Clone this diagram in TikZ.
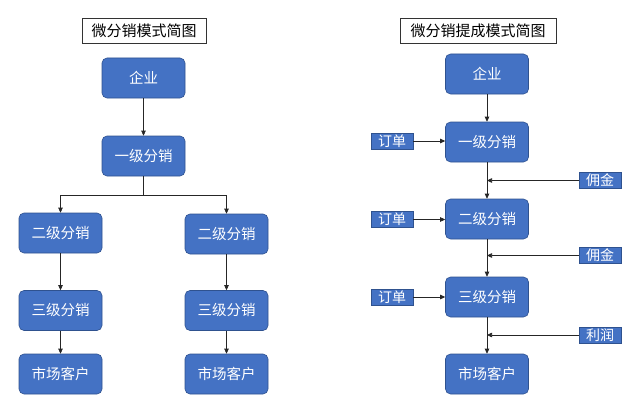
\documentclass[tikz,border=0pt]{standalone}
\usepackage{fontspec}
\setmainfont{Noto Sans CJK SC}
\usetikzlibrary{arrows.meta,positioning}
\definecolor{boxblue}{HTML}{4472C4}
\definecolor{boxedge}{HTML}{2F528F}
\tikzset{
  x=1pt,y=-1pt,
  rbox/.style={draw=boxedge,fill=boxblue,rounded corners=5pt,minimum width=83pt,minimum height=40pt,inner sep=0pt,text=white,font=\fontsize{14.5}{17}\selectfont,line width=0.6pt},
  tbox/.style={draw=black!80,fill=white,inner sep=0pt,minimum height=25pt,font=\fontsize{15}{18}\selectfont,line width=0.8pt},
  lbox/.style={draw=boxedge,fill=boxblue,inner sep=0pt,minimum width=42pt,minimum height=16pt,text=white,font=\fontsize{14}{16}\selectfont,line width=0.5pt},
  arr/.style={draw=black!85,line width=0.7pt,-{Triangle[length=5pt,width=4.5pt]}},
  ln/.style={draw=black!85,line width=0.7pt},
}
\begin{document}
\begin{tikzpicture}
\useasboundingbox (0,0) rectangle (640,420);
% left diagram
\node[tbox,minimum width=124pt] (t1) at (144,30.5) {微分销模式简图};
\node[rbox] (a1) at (143.5,78) {企业};
\node[rbox] (a2) at (143.5,156) {一级分销};
\node[rbox] (b1) at (60.5,233) {二级分销};
\node[rbox] (c1) at (226.5,234) {二级分销};
\node[rbox] (b2) at (60.5,310.5) {三级分销};
\node[rbox] (c2) at (226.5,310.5) {三级分销};
\node[rbox] (b3) at (60.5,374) {市场客户};
\node[rbox] (c3) at (226.5,374) {市场客户};
\coordinate (sp) at (143.5,195);
\coordinate (spl) at (60.5,195);
\coordinate (spr) at (226.5,195);
\draw[arr] (a1) -- (a2);
\draw[ln] (a2) -- (sp);
\draw[ln] (spl) -- (spr);
\draw[arr] (spl) -- (b1);
\draw[arr] (spr) -- (c1);
\draw[arr] (b1) -- (b2);
\draw[arr] (c1) -- (c2);
\draw[arr] (b2) -- (b3);
\draw[arr] (c2) -- (c3);
% right diagram
\node[tbox,minimum width=156pt] (t2) at (478,30.5) {微分销提成模式简图};
\node[rbox] (r1) at (487,74) {企业};
\node[rbox] (r2) at (487,142) {一级分销};
\node[rbox] (r3) at (487,219) {二级分销};
\node[rbox] (r4) at (487,297) {三级分销};
\node[rbox] (r5) at (487,374) {市场客户};
\draw[arr] (r1) -- (r2);
\draw[arr] (r2) -- (r3);
\draw[arr] (r3) -- (r4);
\draw[arr] (r4) -- (r5);
\node[lbox] (o1) at (392,141) {订单};
\node[lbox] (o2) at (392,219.5) {订单};
\node[lbox] (o3) at (392,297) {订单};
\draw[arr] (o1) -- (r2.west |- o1);
\draw[arr] (o2) -- (r3.west |- o2);
\draw[arr] (o3) -- (r4.west |- o3);
\node[lbox] (y1) at (600,180.5) {佣金};
\node[lbox] (y2) at (600,255.5) {佣金};
\node[lbox] (y3) at (600,335) {利润};
\coordinate (j1) at (487,180.5);
\coordinate (j2) at (487,255.5);
\coordinate (j3) at (487,335);
\draw[arr] (y1) -- (j1);
\draw[arr] (y2) -- (j2);
\draw[arr] (y3) -- (j3);
\end{tikzpicture}
\end{document}
